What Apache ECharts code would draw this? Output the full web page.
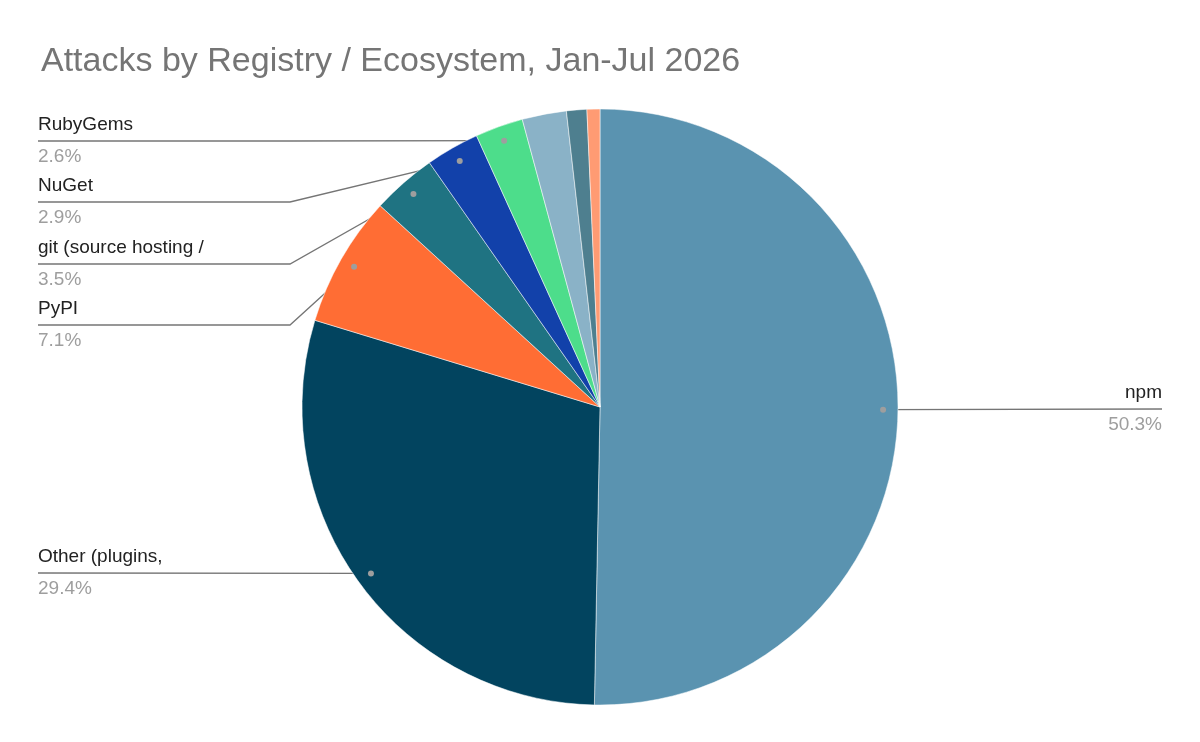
<!DOCTYPE html>
<html><head><meta charset="utf-8">
<script src="https://cdn.jsdelivr.net/npm/echarts@6/dist/echarts.min.js"></script>
<style>html,body{margin:0;padding:0;background:#fff}#c{width:1200px;height:742px}</style>
</head><body><div id="c"></div>
<script>
const categories = ['npm','Other (plugins,','PyPI','git (source hosting /','NuGet','RubyGems','Maven','Go','Docker'];
const values = [50.3,29.4,7.1,3.5,2.9,2.6,2.4,1.1,0.7];
const colors = ['#5a93b0','#02445f','#ff6d34','#1f7382','#1241aa','#4ddd8b','#8ab2c7','#4e7f8f','#ff9b73'];
const labelSpots = {0:[1162,409,'right'],1:[38,573,'left'],2:[38,325,'left'],3:[38,264,'left'],4:[38,202,'left'],5:[38,141,'left']};
const cx=600, cy=407, R=298;
const total = values.reduce((a,b)=>a+b,0);
const dots = [];
let cum=0;
values.forEach((v,i)=>{const mid=(cum+v/2)/total*2*Math.PI; cum+=v;
  dots[i]=[cx+0.95*R*Math.sin(mid), cy-0.95*R*Math.cos(mid)];});
const graphics = Object.keys(labelSpots).map(i=>({type:'circle',shape:{cx:dots[i][0],cy:dots[i][1],r:3},style:{fill:'#9e9e9e'},z:100}));
const chart = echarts.init(document.getElementById('c'));
chart.setOption({
  animation:false,
  title:{text:'Attacks by Registry / Ecosystem, Jan-Jul 2026',left:36,top:40,textStyle:{fontFamily:'Liberation Sans',fontSize:34,fontWeight:'normal',color:'#757575'}},
  graphic:graphics,
  series:[{type:'pie',center:[cx,cy],radius:R,startAngle:90,clockwise:true,
    data:categories.map((n,i)=>({name:n,value:values[i],itemStyle:{color:colors[i]},
      label:{show:i in labelSpots},labelLine:{show:i in labelSpots}})),
    itemStyle:{borderColor:'#fff',borderWidth:0.5},
    label:{formatter:p=>'{n|'+p.name+'}\n{p|'+p.value.toFixed(1)+'%}',
      rich:{n:{fontFamily:'Liberation Sans',fontSize:19,color:'#222',lineHeight:32},p:{fontFamily:'Liberation Sans',fontSize:19,color:'#9e9e9e',lineHeight:32}}},
    labelLine:{lineStyle:{color:'#757575',width:1.3}},
    labelLayout:function(p){const s=labelSpots[p.dataIndex]; if(!s) return {};
      const d=dots[p.dataIndex]; let pts;
      if(p.dataIndex===0) pts=[d,d,[s[0],s[1]]];
      else if(p.dataIndex===1) pts=[d,d,[s[0],s[1]]];
      else pts=[d,[290,s[1]],[s[0],s[1]]];
      return {x:s[0],y:s[1],align:s[2],verticalAlign:'middle',labelLinePoints:pts};}
  }]
});
</script></body></html>
